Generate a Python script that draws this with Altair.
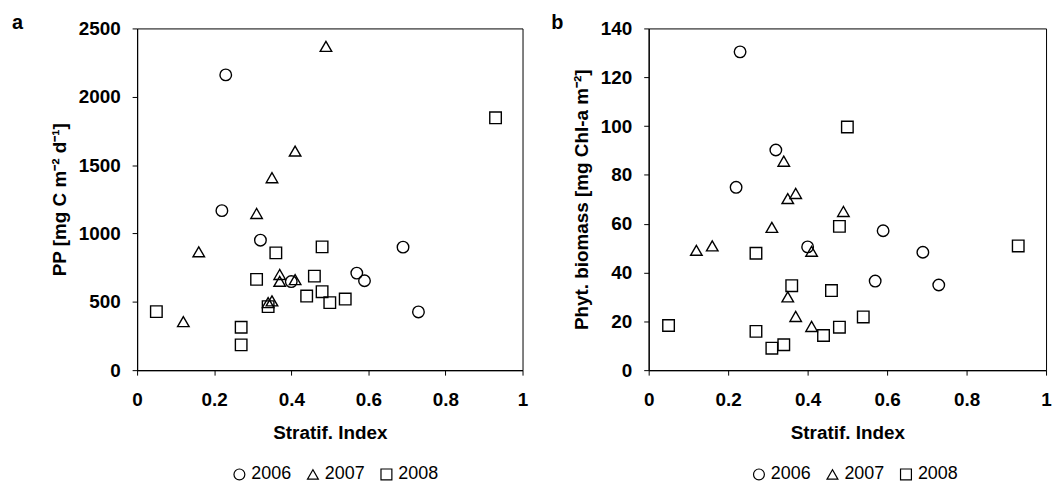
import altair as alt
import pandas as pd

# Stratification index per station, grouped by cruise year
si_2006 = [0.23, 0.22, 0.32, 0.40, 0.57, 0.59, 0.69, 0.73]
si_2007 = [0.12, 0.16, 0.31, 0.34, 0.35, 0.35, 0.37, 0.37, 0.41, 0.41, 0.49]
si_2008 = [0.05, 0.27, 0.27, 0.31, 0.34, 0.36, 0.44, 0.46, 0.48, 0.48, 0.50, 0.54, 0.93]

# Primary production, mg C m-2 d-1
pp_2006 = [2160, 1167, 951, 648, 710, 654, 900, 426]
pp_2007 = [355, 866, 1146, 494, 1408, 507, 700, 650, 1603, 662, 2369]
pp_2008 = [428, 314, 185, 664, 465, 858, 542, 688, 902, 574, 494, 520, 1846]

# Phytoplankton biomass, mg Chl-a m-2
chl_2006 = [130.4, 74.9, 90.2, 50.5, 36.5, 57.1, 48.3, 34.9]
chl_2007 = [49.1, 50.9, 58.5, 85.6, 70.3, 30.0, 72.4, 22.0, 48.7, 17.9, 65.0]
chl_2008 = [18.3, 47.9, 15.9, 9.0, 10.4, 34.6, 14.2, 32.6, 58.9, 17.6, 99.6, 21.8, 50.9]

years = ["2006", "2007", "2008"]
shapes = ["circle", "triangle-up", "square"]
x_ticks = [0, 0.2, 0.4, 0.6, 0.8, 1]
pp_ticks = [0, 500, 1000, 1500, 2000, 2500]
chl_ticks = [0, 20, 40, 60, 80, 100, 120, 140]

FONT = "Liberation Sans"


def frame(values):
    rows = []
    for year, si, val in zip(years, [si_2006, si_2007, si_2008], values):
        for s, v in zip(si, val):
            rows.append({"year": year, "si": s, "value": v})
    return pd.DataFrame(rows)


def panel(df, y_title, y_ticks, letter, width, title_pad, letter_dx, letter_dy, legend_x):
    return (
        alt.Chart(df)
        .mark_point(filled=False, color="black", size=135, strokeWidth=1.4, opacity=1)
        .encode(
            x=alt.X(
                "si:Q",
                scale=alt.Scale(domain=[0, 1], nice=False),
                axis=alt.Axis(values=x_ticks, format="~g", title="Stratif. Index",
                              labelFlush=False, labelPadding=16, titlePadding=14),
            ),
            y=alt.Y(
                "value:Q",
                scale=alt.Scale(domain=[y_ticks[0], y_ticks[-1]], nice=False),
                axis=alt.Axis(values=y_ticks, format="d", title=y_title, labelPadding=12,
                              titlePadding=title_pad),
            ),
            shape=alt.Shape(
                "year:N",
                scale=alt.Scale(domain=years, range=shapes),
                legend=alt.Legend(
                    title=None, orient="none", direction="horizontal",
                    legendX=legend_x, legendY=440, padding=0,
                    symbolSize=120, symbolStrokeColor="black", symbolFillColor="white",
                    symbolStrokeWidth=1.2, labelOffset=3, columnPadding=12,
                    labelFont=FONT, labelFontSize=18, labelColor="black",
                ),
            ),
        )
        .properties(
            width=width,
            height=344,
            title=alt.TitleParams(letter, anchor="start", frame="group", dx=letter_dx,
                                  dy=letter_dy, offset=0, font=FONT, fontSize=20,
                                  fontWeight="bold", color="black"),
        )
    )


left = panel(frame([pp_2006, pp_2007, pp_2008]), "PP [mg C m⁻² d⁻¹]", pp_ticks,
             "a", 388, 9, -126, 14, 94)
right = panel(frame([chl_2006, chl_2007, chl_2008]), "Phyt. biomass [mg Chl-a m⁻²]", chl_ticks,
              "b", 400, 9, -98, 14, 102)

chart = (
    alt.hconcat(left, right, spacing=22)
    .resolve_scale(shape="independent")
    .resolve_legend(shape="independent")
    .properties(padding={"left": 11, "top": 11, "right": 0, "bottom": 0}, background="white")
    .configure_view(stroke="black", strokeWidth=1)
    .configure_axis(
        grid=False, domainColor="black", domainWidth=1.2, tickColor="black", tickSize=5,
        labelColor="black", titleColor="black", labelFont=FONT, titleFont=FONT,
        labelFontSize=19, titleFontSize=19, labelFontWeight="bold", titleFontWeight="bold",
    )
)

chart.save("out.html", embed_options={"renderer": "svg", "actions": False})
